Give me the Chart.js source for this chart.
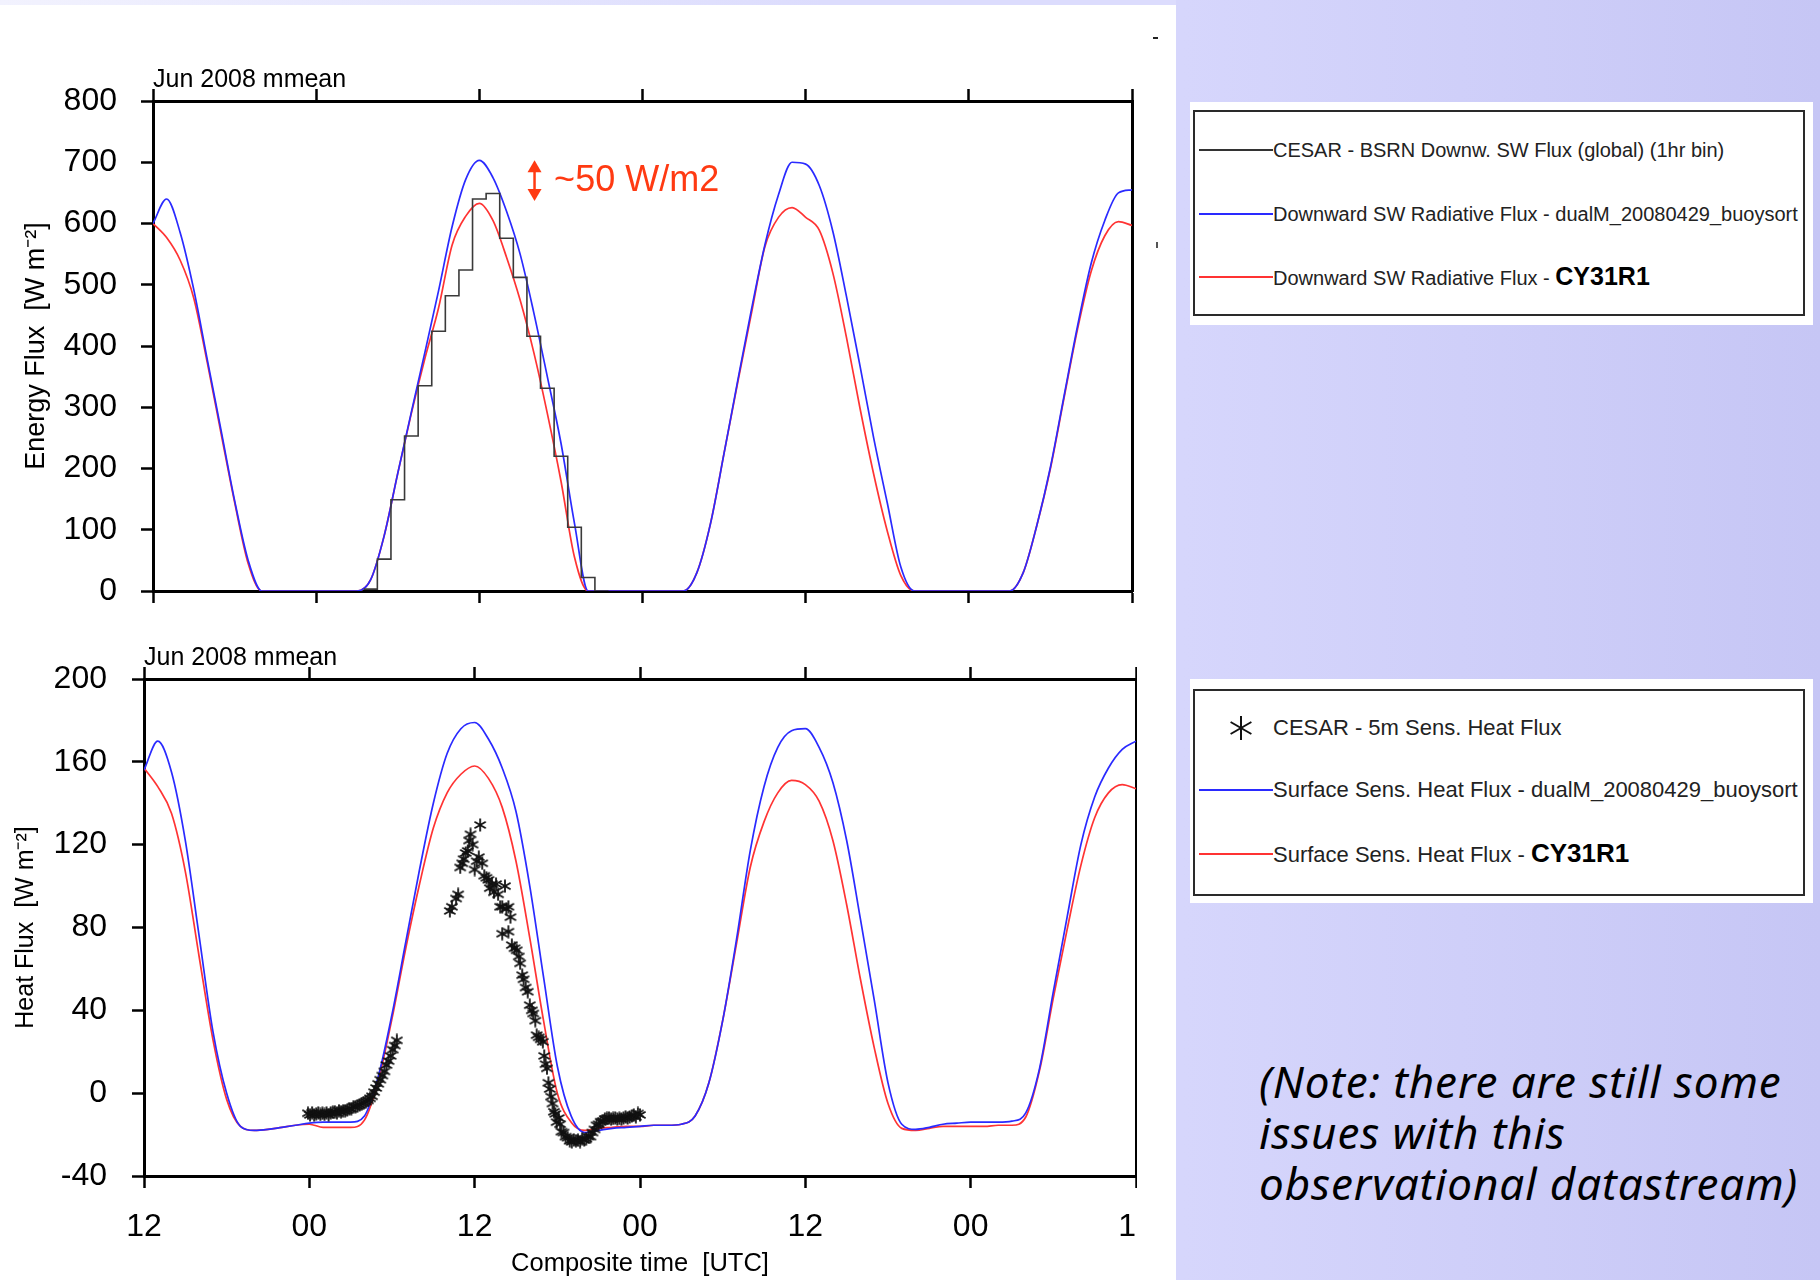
<!DOCTYPE html>
<html>
<head>
<meta charset="utf-8">
<title>CESAR Jun 2008 mmean - SW and sensible heat flux</title>
<script src="https://cdn.jsdelivr.net/npm/chart.js@4.4.1/dist/chart.umd.min.js"></script>
<style>
  html, body { margin: 0; padding: 0; }
  body {
    width: 1820px; height: 1280px; overflow: hidden; position: relative;
    background: linear-gradient(to right, #dcdcfd 0%, #d6d6fc 65%, #c6c6f5 100%);
    font-family: 'Liberation Sans', Arial, sans-serif;
  }
  .abs { position: absolute; }
  #strip { left: 0; top: 0; width: 1176px; height: 5px; background: linear-gradient(to right, #f2f2fe, #dcdcfd 70%); }
  #panel { left: 0; top: 5px; width: 1176px; height: 1275px; background: #fff; }
  .run { font-size: 25px; line-height: 25px; color: #000; white-space: nowrap; }
  .legend { position: absolute; background: #fff; }
  .frame { position: absolute; border: 2px solid #2a2a2a; box-sizing: border-box; }
  .key { position: absolute; height: 2px; }
  .txt { position: absolute; white-space: nowrap; color: #222; line-height: 30px; transform: translateY(-50%); }
  .txt b { color: #000; }
  #note { font-family: 'Noto Sans', sans-serif; font-style: italic; font-size: 44px; letter-spacing: 0.9px; line-height: 51px; color: #000; white-space: nowrap; }
</style>
</head>
<body>
<div id="strip" class="abs"></div>
<div id="panel" class="abs"></div>
<div class="abs" style="left:1153px;top:37px;width:5px;height:2px;background:#222"></div>
<div class="abs" style="left:1156px;top:242px;width:2px;height:6px;background:#555"></div>

<div class="abs" style="left:0;top:0;width:1176px;height:630px"><canvas id="swChart"></canvas></div>
<div class="abs run" style="left:153px;top:66px">Jun 2008 mmean</div>

<div class="abs" style="left:0;top:630px;width:1137px;height:650px;overflow:hidden">
  <div style="position:relative;width:1176px;height:650px"><canvas id="shChart"></canvas></div>
</div>
<div class="abs run" style="left:144px;top:644px">Jun 2008 mmean</div>

<!-- shortwave legend -->
<div class="legend" style="left:1190px;top:102px;width:623px;height:223px"></div>
<div class="frame" style="left:1193px;top:110px;width:612px;height:206px"></div>
<div class="key" style="left:1199px;top:149px;width:74px;background:#333"></div>
<div class="txt" style="left:1273px;top:150px;font-size:20px">CESAR - BSRN Downw. SW Flux (global) (1hr bin)</div>
<div class="key" style="left:1199px;top:213px;width:74px;background:#2a2aff"></div>
<div class="txt" style="left:1273px;top:214px;font-size:20px">Downward SW Radiative Flux - dualM_20080429_buoysort</div>
<div class="key" style="left:1199px;top:276px;width:74px;background:#ff3333"></div>
<div class="txt" style="left:1273px;top:277px;font-size:20px">Downward SW Radiative Flux - <b style="font-size:25px">CY31R1</b></div>

<!-- sensible heat legend -->
<div class="legend" style="left:1190px;top:679px;width:623px;height:224px"></div>
<div class="frame" style="left:1193px;top:689px;width:612px;height:207px"></div>
<svg class="abs" style="left:1228px;top:715px" width="26" height="26" viewBox="0 0 26 26">
  <g stroke="#111" stroke-width="2">
    <line x1="13" y1="1" x2="13" y2="25"/>
    <line x1="2.6" y1="7" x2="23.4" y2="19"/>
    <line x1="2.6" y1="19" x2="23.4" y2="7"/>
  </g>
</svg>
<div class="txt" style="left:1273px;top:728px;font-size:22px">CESAR - 5m Sens. Heat Flux</div>
<div class="key" style="left:1199px;top:789px;width:74px;background:#2a2aff"></div>
<div class="txt" style="left:1273px;top:790px;font-size:22px">Surface Sens. Heat Flux - dualM_20080429_buoysort</div>
<div class="key" style="left:1199px;top:853px;width:74px;background:#ff3333"></div>
<div class="txt" style="left:1273px;top:854px;font-size:22px">Surface Sens. Heat Flux - <b style="font-size:26px">CY31R1</b></div>

<div id="note" class="abs" style="left:1259px;top:1056px">(Note: there are still some<br>issues with this<br>observational datastream)</div>

<script>
// composite time axis: hours after 12 UTC of the first day
const compositeHours = [0,1,2,3,4,5,6,7,8,9,10,11,12,13,14,15,16,17,18,19,20,21,22,23,24,
  25,26,27,28,29,30,31,32,33,34,35,36,37,38,39,40,41,42,43,44,45,46,47,48,49,
  50,51,52,53,54,55,56,57,58,59,60,61,62,63,64,65,66,67,68,69,70,71,72];
const xTickLabels = ['12', '00', '12', '00', '12', '00', '12'];

// downward SW radiative flux [W m-2], hourly
const swDualM = [600,640,585,492,377,263,148,50,0,0, 0,0,0,0,0,0,18,90,192,292,
  390,490,595,672,703,675,620,550,455,350, 242,110,0,0,0,0,0,0,0,0,
  30,110,225,343,458,565,647,700,697,662, 587,481,367,250,144,39,0,0,0,0,
  0,0,0,0,30,107,202,318,433,535, 605,650,655];
const swCY31R1 = [600,577,540,478,372,258,145,45,0,0, 0,0,0,0,0,0,18,90,192,290,
  380,462,565,612,633,605,545,475,390,290, 180,55,0,0,0,0,0,0,0,0,
  30,110,225,340,452,562,610,626,610,589, 519,414,298,191,98,25,0,0,0,0,
  0,0,0,0,30,107,200,315,428,522, 580,603,597];

// BSRN global SW, 1 hr bins (bin centre hour, value)
const obsSWHour = [16,17,18,19,20,21,22,23,24,25,26,27,28,29,30,31,32,33];
const obsSW = [3,52,149,253,335,424,482,524,640,649,576,512,416,331,220,104,22,0];

// surface sensible heat flux [W m-2], hourly
const shDualM = [156,170,155,122,76,30,0,-16,-18,-17.5, -16.5,-15.5,-14.5,-14,-14,-14,-11,8,38,73,
  108,140,164,176,179,171,157,136,100,56, 13,-11,-19,-18,-17,-16.5,-16,-15.5,-15.5,-15,
  -11,5,35,74,117,148,167,175,176,167, 150,122,84,45,5,-15,-17.5,-16.5,-15,-14.5,
  -14,-14,-14,-13.5,-9.5,12,49,85,120,143, 157,166,170];
const shCY31R1 = [157,148,135,107,66,26,-3,-16,-18,-17.5, -16.5,-15.5,-15,-16.5,-16.5,-16.5,-13,6,36,70,
  101,128,145,154,158,152,138,112,75,35, 0,-14,-18,-17,-16.5,-16,-16,-15.5,-15.5,-15,
  -11,5,35,72,109,131,145,151,149,141, 122,91,55,22,-5,-17,-18,-17,-16,-16,
  -16,-16,-15.5,-15.5,-11.5,11,46,79,110,133, 145,149,147];

// CESAR 5 m sensible heat flux observations
const obsSHHour = [11.9,12.05,12.2,12.35,12.5,12.65,12.8,12.95,13.1,13.25,13.4,13.55,13.7,13.85,14.0,
  14.15,14.3,14.45,14.6,14.75,14.9,15.05,15.2,15.35,15.5,15.65,15.8,15.95,16.1,16.25,16.4,16.55,
  16.7,16.85,17.0,17.15,17.3,17.45,17.6,17.75,17.9,18.05,18.2,18.35,
  22.2,22.35,22.65,22.8,22.95,23.1,23.2,23.35,23.5,23.6,23.7,23.85,24.0,24.15,24.3,24.4,24.55,
  24.7,24.85,25.0,25.1,25.25,25.4,25.55,25.7,25.85,26.0,26.2,26.3,26.45,26.6,26.0,26.45,26.7,
  26.9,27.05,27.2,27.3,27.45,27.55,27.7,27.85,28.0,28.15,28.25,28.4,28.5,28.65,28.8,28.95,
  29.05,29.15,29.25,29.35,29.45,29.55,29.65,29.75,29.85,29.95,30.1,30.2,30.3,30.45,30.6,30.75,
  30.9,31.05,31.2,31.35,31.5,31.65,31.8,31.95,32.1,32.25,32.4,32.55,32.7,32.85,33.0,33.15,
  33.3,33.45,33.6,33.75,33.9,34.05,34.2,34.35,34.5,34.65,34.8,34.95,35.1,35.25,35.4,35.55,
  35.7,35.85,36.0];
const obsSH = [-9.7,-10.5,-9.5,-10.5,-10,-9.5,-10.3,-9.7,-10.3,-9.5,-10.5,-9.5,-9.2,-9,-9.5,
  -8.5,-9,-8.5,-8.5,-8.1,-7.5,-7.5,-6.5,-6.5,-6.2,-5.7,-5,-4.6,-4.1,-3.5,-2.5,-1.5,
  0.5,2.5,4.5,6.5,8.5,10.5,13.6,15.5,18,21,23,25.5,
  88,90,94,96,109,111,113,116,117,122,125,120,108,112,114,129.5,111,
  105,104,103,99,101,97,101,96,90,90,100,89,90,85,77,78,71.5,
  70,69,66,62.7,57,55,51,49,42.5,40,38.5,35,28,27,26,24.8,
  18,14,12,5,2,-1.7,-5,-9,-10,-14,-12,-15,-18.6,-19,-21,-21.5,
  -23,-23.5,-22.6,-23,-22.7,-23.4,-22,-22.6,-22,-21,-21,-19,-17.5,-15.5,-15,-13.8,
  -13.5,-12.5,-12.2,-12,-12.5,-12.2,-12,-12.5,-12.2,-12.5,-12,-11.4,-12,-11.5,-11,-10.6,
  -11.4,-9.8,-10.5];

// model/observation gap marker in the SW panel
const gapHour = 28.06;
const gapTop = 695;
const gapBottom = 645;
const gapLabel = '~50 W/m2';
const gapLabelHour = 29.5;

const FONT = "'Liberation Sans', Arial, sans-serif";
Chart.defaults.font.family = FONT;
Chart.defaults.color = '#000';

function series(values) {
  return compositeHours.map((h, i) => ({ x: h, y: values[i] }));
}

// hourly bins as a closed step outline
function binOutline(hours, values) {
  const pts = [];
  hours.forEach((h, i) => {
    pts.push({ x: h - 0.5, y: values[i] });
    pts.push({ x: h + 0.5, y: values[i] });
  });
  return pts;
}

function asteriskMarker(size, color) {
  const c = document.createElement('canvas');
  c.width = c.height = size;
  const g = c.getContext('2d');
  g.strokeStyle = color;
  g.lineWidth = 1.8;
  const m = size / 2, r = size / 2 - 0.5;
  [90, 30, 150].forEach(deg => {
    const a = deg * Math.PI / 180;
    g.beginPath();
    g.moveTo(m - r * Math.cos(a), m - r * Math.sin(a));
    g.lineTo(m + r * Math.cos(a), m + r * Math.sin(a));
    g.stroke();
  });
  return c;
}

// fixed-size frame: ticks outward on left, top and bottom, plain line on right
function frameScales(o) {
  const tickGrid = { drawOnChartArea: false, tickLength: 12, tickWidth: 2.5, tickColor: '#000', color: '#000' };
  const edge = { color: '#000', width: 3 };
  return {
    x: {
      type: 'linear', position: 'bottom', min: 0, max: 72,
      border: edge, grid: tickGrid,
      ticks: {
        stepSize: 12, display: !!o.xLabels, autoSkip: false, maxRotation: 0,
        font: { size: 32 }, color: '#000', padding: 20,
        callback: v => (o.xLabels ? o.xLabels[v / 12] : '')
      },
      title: o.xTitle
        ? { display: true, text: o.xTitle, font: { size: 25.5 }, color: '#000', padding: { top: 0, bottom: 1 } }
        : { display: false },
      afterFit: s => { s.height = o.bottom; s.paddingLeft = 0; s.paddingRight = 0; }
    },
    xTop: {
      type: 'linear', position: 'top', min: 0, max: 72,
      border: edge, grid: tickGrid,
      ticks: { stepSize: 12, display: false },
      afterFit: s => { s.height = o.top; s.paddingLeft = 0; s.paddingRight = 0; }
    },
    y: {
      type: 'linear', position: 'left', min: o.yMin, max: o.yMax,
      border: edge, grid: tickGrid,
      ticks: { stepSize: o.yStep, font: { size: 32 }, color: '#000', padding: o.yPad },
      title: { display: true, text: o.yTitle, font: { size: o.yTitleSize }, color: '#000', padding: { top: o.yTitlePad, bottom: 0 } },
      afterFit: s => { s.width = o.left; s.paddingTop = 0; s.paddingBottom = 0; }
    },
    yRight: {
      type: 'linear', position: 'right', min: o.yMin, max: o.yMax,
      border: edge, grid: { drawOnChartArea: false, drawTicks: false },
      ticks: { display: false },
      afterFit: s => { s.width = o.right; }
    }
  };
}

const gapArrow = {
  id: 'gapArrow',
  afterDatasetsDraw(chart) {
    const { ctx, scales: { x, y } } = chart;
    const px = x.getPixelForValue(gapHour);
    const yT = y.getPixelForValue(gapTop);
    const yB = y.getPixelForValue(gapBottom);
    ctx.save();
    ctx.strokeStyle = ctx.fillStyle = '#ff3a12';
    ctx.lineWidth = 2.5;
    ctx.beginPath();
    ctx.moveTo(px, yT + 4);
    ctx.lineTo(px, yB - 4);
    ctx.stroke();
    ctx.beginPath();
    ctx.moveTo(px, yT - 5); ctx.lineTo(px - 7, yT + 7); ctx.lineTo(px + 7, yT + 7);
    ctx.closePath(); ctx.fill();
    ctx.beginPath();
    ctx.moveTo(px, yB + 5); ctx.lineTo(px - 7, yB - 7); ctx.lineTo(px + 7, yB - 7);
    ctx.closePath(); ctx.fill();
    ctx.font = '36px ' + FONT;
    ctx.textBaseline = 'middle';
    ctx.fillText(gapLabel, x.getPixelForValue(gapLabelHour), y.getPixelForValue((gapTop + gapBottom) / 2));
    ctx.restore();
  }
};

const lineStyle = { pointRadius: 0, borderWidth: 1.7, cubicInterpolationMode: 'monotone', fill: false };

new Chart(document.getElementById('swChart'), {
  type: 'line',
  data: {
    datasets: [
      { label: 'CESAR - BSRN Downw. SW Flux (global) (1hr bin)', data: binOutline(obsSWHour, obsSW),
        borderColor: '#3a3a3a', borderWidth: 1.6, pointRadius: 0, tension: 0 },
      { label: 'Downward SW Radiative Flux - dualM_20080429_buoysort', data: series(swDualM),
        borderColor: '#2a2aff', ...lineStyle },
      { label: 'Downward SW Radiative Flux - CY31R1', data: series(swCY31R1),
        borderColor: '#ff3333', ...lineStyle }
    ]
  },
  options: {
    responsive: true, maintainAspectRatio: false, animation: false,
    layout: { padding: 0 },
    plugins: { legend: { display: false }, tooltip: { enabled: false } },
    scales: frameScales({
      yMin: 0, yMax: 800, yStep: 100, yPad: 24,
      yTitle: 'Energy Flux  [W m\u207B\u00B2]', yTitleSize: 27, yTitlePad: 20,
      left: 153, right: 44, top: 101, bottom: 39
    })
  },
  plugins: [gapArrow]
});

new Chart(document.getElementById('shChart'), {
  type: 'line',
  data: {
    datasets: [
      { label: 'CESAR - 5m Sens. Heat Flux', data: obsSHHour.map((h, i) => ({ x: h, y: obsSH[i] })),
        showLine: false, pointStyle: asteriskMarker(14, '#111'), pointRadius: 7 },
      { label: 'Surface Sens. Heat Flux - dualM_20080429_buoysort', data: series(shDualM),
        borderColor: '#2a2aff', ...lineStyle },
      { label: 'Surface Sens. Heat Flux - CY31R1', data: series(shCY31R1),
        borderColor: '#ff3333', ...lineStyle }
    ]
  },
  options: {
    responsive: true, maintainAspectRatio: false, animation: false,
    layout: { padding: 0 },
    plugins: { legend: { display: false }, tooltip: { enabled: false } },
    scales: frameScales({
      yMin: -40, yMax: 200, yStep: 40, yPad: 25,
      yTitle: 'Heat Flux  [W m\u207B\u00B2]', yTitleSize: 25, yTitlePad: 11,
      xLabels: xTickLabels, xTitle: 'Composite time  [UTC]',
      left: 144, right: 40, top: 49, bottom: 104
    })
  }
});
</script>
</body>
</html>
